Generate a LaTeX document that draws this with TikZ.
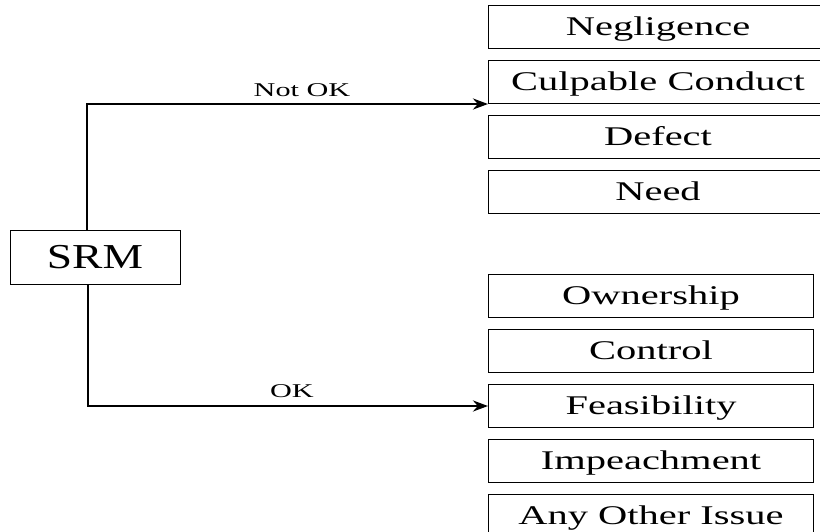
\documentclass[tikz,border=0pt]{standalone}
\usepackage{fontspec}
\usetikzlibrary{arrows.meta, positioning}
\newfontfamily\boxfont[FakeStretch=1.5]{Liberation Serif}
\newfontfamily\srmfont[FakeStretch=1.3]{Liberation Serif}
\newfontfamily\lblfont[FakeStretch=1.55]{Liberation Serif}

\begin{document}
\begin{tikzpicture}[x=1pt, y=-1pt, node distance=11pt,
        issue/.style={draw, line width=1pt, minimum height=43pt, inner sep=0pt,
            text height=19pt, text depth=2pt, font=\boxfont\fontsize{27}{30}\selectfont},
        lbl/.style={font=\lblfont\fontsize{19.5}{22}\selectfont}]
        \useasboundingbox (0,0) rectangle (820,531);

        \node (srm) [draw, line width=1pt, minimum width=170pt, minimum height=54pt,
            font=\srmfont\fontsize{35}{40}\selectfont] at (95,257) {SRM};

        % not ok
        \node (negl) [issue, minimum width=339pt, anchor=north west] at (488,5) {Negligence};
        \node (culp) [issue, minimum width=339pt, below=of negl] {Culpable Conduct};
        \node (defect) [issue, minimum width=339pt, below=of culp] {Defect};
        \node (need) [issue, minimum width=339pt, below=of defect] {Need};

        % ok
        \node (own) [issue, minimum width=325pt, anchor=north west] at (488,274) {Ownership};
        \node (ctrl) [issue, minimum width=325pt, below=of own] {Control};
        \node (feas) [issue, minimum width=325pt, below=of ctrl] {Feasibility};
        \node (imp) [issue, minimum width=325pt, below=of feas] {Impeachment};
        \node (other) [issue, minimum width=325pt, below=of imp] {Any Other Issue};

        \path[-{Stealth[length=15pt, width=11pt]}, line width=2.5pt]
        ([xshift=-8pt]srm.north) edge [to path={|- (\tikztotarget)}] (culp.south west)
        ([xshift=-7pt]srm.south) edge [to path={|- (\tikztotarget)}] (feas.west);

        \node [lbl, above=2pt] at (302,102) {Not OK};
        \node [lbl, above=2pt] at (292,403) {OK};

    \end{tikzpicture}
\end{document}
